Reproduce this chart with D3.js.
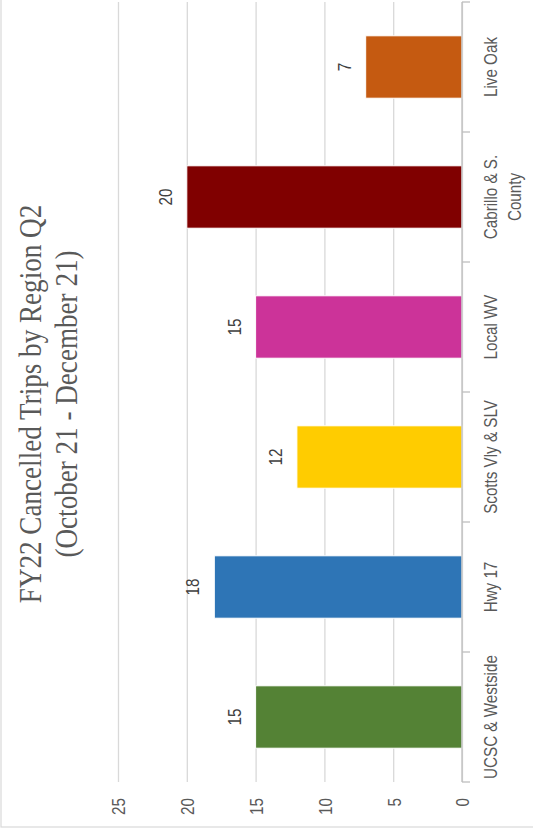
<!DOCTYPE html>
<html>
<head>
<meta charset="utf-8">
<script src="https://cdn.jsdelivr.net/npm/d3@7"></script>
<style>
  html, body { margin: 0; padding: 0; background: #fff; }
  svg { display: block; }
</style>
</head>
<body>
<svg id="chart" width="533" height="833"></svg>
<script>
// Cancelled trips per region, FY22 Q2
const categories = ["UCSC & Westside", "Hwy 17", "Scotts Vly & SLV", "Local WV", "Cabrillo & S. County", "Live Oak"];
const categoryLines = [["UCSC & Westside"], ["Hwy 17"], ["Scotts Vly & SLV"], ["Local WV"], ["Cabrillo & S.", "County"], ["Live Oak"]];
const values = [15, 18, 12, 15, 20, 7];
const barColors = ["#548235", "#2e75b6", "#ffcc00", "#cc3399", "#800000", "#c55a11"];
const valueTicks = [0, 5, 10, 15, 20, 25];
const titleLines = ["FY22 Cancelled Trips by Region Q2", "(October 21 - December 21)"];

const svg = d3.select("#chart");
const W = 833, H = 533;           // chart frame, drawn turned on its side
const sansFont = "'Liberation Sans', Arial, sans-serif";
const serifFont = "'Liberation Serif', 'Times New Roman', serif";
const textGray = "#595959";
const squeeze = 0.8;              // narrow the sans labels

const g = svg.append("g").attr("transform", `translate(0,${W}) rotate(-90)`);

// outer frame
g.append("rect")
  .attr("x", 6).attr("y", 1)
  .attr("width", W + 20).attr("height", H + 20)
  .attr("fill", "#fff").attr("stroke", "#d9d9d9").attr("stroke-width", 1.2);

const x = d3.scaleBand()
  .domain(categories)
  .range([51, 831])
  .paddingInner(0.52)
  .paddingOuter(0.26);

const y = d3.scaleLinear().domain([0, 25]).range([462, 118]);

// value axis with gridlines
const yAxis = g.append("g")
  .attr("transform", "translate(51,0)")
  .call(d3.axisLeft(y).tickValues(valueTicks).tickSize(-780).tickFormat(d3.format("d")));
yAxis.select(".domain").remove();
yAxis.selectAll(".tick line")
  .attr("stroke", "#d9d9d9").attr("stroke-width", 1.3);
yAxis.selectAll(".tick text")
  .attr("x", null).attr("dy", null)
  .attr("transform", `translate(-16,6.8) scale(${squeeze},1)`)
  .attr("text-anchor", "end")
  .attr("font-family", sansFont).attr("font-size", 19)
  .attr("fill", textGray);

// bars
g.append("g").selectAll("rect")
  .data(values)
  .join("rect")
  .attr("x", (d, i) => x(categories[i]))
  .attr("width", x.bandwidth())
  .attr("y", d => y(d))
  .attr("height", d => y(0) - y(d))
  .attr("fill", (d, i) => barColors[i])
  .attr("stroke", "#fff").attr("stroke-width", 1);

// category axis line and band-edge ticks
const catAxis = g.append("g");
catAxis.append("line")
  .attr("x1", x.range()[0]).attr("x2", x.range()[1])
  .attr("y1", y(0)).attr("y2", y(0))
  .attr("stroke", "#bfbfbf").attr("stroke-width", 1.3);
const edges = categories.map(c => x(c) - x.step() * x.paddingInner() / 2).concat([x.range()[1]]);
catAxis.selectAll("line.edge")
  .data(edges)
  .join("line")
  .attr("class", "edge")
  .attr("x1", d => d).attr("x2", d => d)
  .attr("y1", y(0)).attr("y2", y(0) + 8)
  .attr("stroke", "#bfbfbf").attr("stroke-width", 1.3);

// category labels
const catLabels = g.append("g").selectAll("text")
  .data(categories)
  .join("text")
  .attr("transform", d => `translate(${x(d) + x.bandwidth() / 2},497) scale(${squeeze},1)`)
  .attr("text-anchor", "middle")
  .attr("font-family", sansFont).attr("font-size", 19)
  .attr("fill", textGray);
catLabels.selectAll("tspan")
  .data((d, i) => categoryLines[i])
  .join("tspan")
  .attr("x", 0)
  .attr("dy", (d, j) => j === 0 ? 0 : 24)
  .text(d => d);

// value labels
g.append("g").selectAll("text")
  .data(values)
  .join("text")
  .attr("transform", (d, i) => `translate(${x(categories[i]) + x.bandwidth() / 2},${y(d) - 15}) scale(${squeeze},1)`)
  .attr("text-anchor", "middle")
  .attr("font-family", sansFont).attr("font-size", 19)
  .attr("fill", "#404040")
  .text(d => d);

// title
g.append("g").selectAll("text")
  .data(titleLines)
  .join("text")
  .attr("transform", (d, i) => `translate(429,${i === 0 ? 40.7 : 77}) scale(0.875,1)`)
  .attr("text-anchor", "middle")
  .attr("font-family", serifFont).attr("font-size", 31)
  .attr("fill", textGray)
  .text(d => d);
</script>
</body>
</html>
